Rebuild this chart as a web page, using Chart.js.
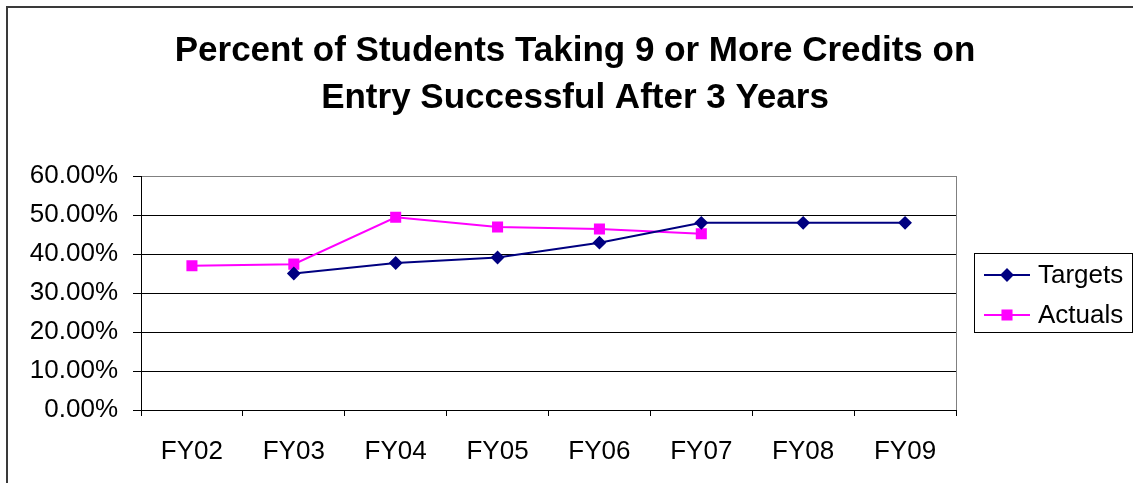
<!DOCTYPE html>
<html>
<head>
<meta charset="utf-8">
<script src="https://cdn.jsdelivr.net/npm/chart.js@4/dist/chart.umd.min.js"></script>
<style>
html,body{margin:0;padding:0;background:#fff;}
#wrap{width:1133px;height:483px;position:relative;}
</style>
</head>
<body>
<div id="wrap"><canvas id="c" width="1133" height="483"></canvas></div>
<script>
const titleLines = ['Percent of Students Taking 9 or More Credits on', 'Entry Successful After 3 Years'];
const categories = ['FY02', 'FY03', 'FY04', 'FY05', 'FY06', 'FY07', 'FY08', 'FY09'];
const targets = [null, 0.35, 0.377, 0.391, 0.429, 0.48, 0.48, 0.48];
const actuals = [0.37, 0.374, 0.494, 0.469, 0.464, 0.452, null, null];
const yTicks = [0, 0.1, 0.2, 0.3, 0.4, 0.5, 0.6];
const seriesNames = ['Targets', 'Actuals'];

const FONT = '"Liberation Sans", Arial, sans-serif';

const framePlugin = {
  id: 'frame',
  beforeDraw(chart) {
    const ctx = chart.ctx;
    ctx.save();
    ctx.fillStyle = '#fff';
    ctx.fillRect(0, 0, chart.width, chart.height);
    ctx.strokeStyle = '#3a3a3a';
    ctx.lineWidth = 2;
    ctx.beginPath();
    ctx.moveTo(7, chart.height);
    ctx.lineTo(7, 7);
    ctx.lineTo(chart.width, 7);
    ctx.stroke();
    ctx.restore();
  },
  afterDraw(chart) {
    const ctx = chart.ctx;
    const a = chart.chartArea;
    ctx.save();
    // right border of plot area
    ctx.strokeStyle = '#808080';
    ctx.lineWidth = 1;
    ctx.beginPath();
    ctx.moveTo(Math.round(a.right) + 0.5, a.top);
    ctx.lineTo(Math.round(a.right) + 0.5, a.bottom);
    ctx.stroke();
    // title
    ctx.fillStyle = '#000';
    ctx.font = 'bold 35px ' + FONT;
    ctx.textAlign = 'center';
    ctx.textBaseline = 'middle';
    ctx.fillText(titleLines[0], 575, 51);
    ctx.fillText(titleLines[1], 575, 98);
    // legend
    ctx.strokeStyle = '#000';
    ctx.lineWidth = 1;
    ctx.strokeRect(974.5, 253.5, 158, 79);
    const rows = [275, 315];
    chart.data.datasets.forEach((ds, i) => {
      const y = rows[i];
      ctx.strokeStyle = ds.borderColor;
      ctx.lineWidth = ds.borderWidth;
      ctx.beginPath();
      ctx.moveTo(984, y);
      ctx.lineTo(1030, y);
      ctx.stroke();
      Chart.helpers.drawPoint(ctx, {pointStyle: ds.pointStyle, radius: ds.pointRadius, rotation: 0, borderWidth: 1}, 1007, y);
      ctx.fillStyle = ds.pointBackgroundColor;
      ctx.strokeStyle = ds.pointBorderColor;
      ctx.lineWidth = 1;
      ctx.beginPath();
      Chart.helpers.drawPoint(ctx, {pointStyle: ds.pointStyle, radius: ds.pointRadius, rotation: 0, borderWidth: 1}, 1007, y);
      ctx.fillStyle = '#000';
      ctx.font = '26px ' + FONT;
      ctx.textAlign = 'left';
      ctx.textBaseline = 'middle';
      ctx.fillText(ds.label, 1038, y + 1);
    });
    ctx.restore();
  }
};

new Chart(document.getElementById('c'), {
  type: 'line',
  data: {
    labels: categories,
    datasets: [
      {
        label: seriesNames[0],
        data: targets,
        borderColor: '#000080',
        backgroundColor: '#000080',
        pointBackgroundColor: '#000080',
        pointBorderColor: '#000080',
        borderWidth: 2,
        pointStyle: 'rectRot',
        pointRadius: 5.5,
        pointHoverRadius: 5.5,
        tension: 0,
        spanGaps: false
      },
      {
        label: seriesNames[1],
        data: actuals,
        borderColor: '#FF00FF',
        backgroundColor: '#FF00FF',
        pointBackgroundColor: '#FF00FF',
        pointBorderColor: '#FF00FF',
        borderWidth: 2,
        pointStyle: 'rect',
        pointRadius: 6.4,
        pointHoverRadius: 6.4,
        tension: 0,
        spanGaps: false
      }
    ]
  },
  options: {
    responsive: false,
    animation: false,
    events: [],
    layout: { padding: { top: 176, right: 177, bottom: 0, left: 0 } },
    plugins: {
      legend: { display: false },
      title: { display: false },
      tooltip: { enabled: false }
    },
    scales: {
      x: {
        type: 'category',
        offset: true,
        afterFit(s) { s.height = 73; },
        grid: {
          offset: true,
          drawOnChartArea: false,
          drawTicks: true,
          tickLength: 6,
          color: '#000'
        },
        border: { display: true, color: '#000', width: 1 },
        ticks: {
          color: '#000',
          font: { family: FONT, size: 26 },
          padding: 20,
          maxRotation: 0,
          autoSkip: false
        }
      },
      y: {
        min: 0,
        max: 0.6,
        afterFit(s) { s.width = 141; },
        afterBuildTicks(s) { s.ticks = yTicks.map(v => ({ value: v })); },
        grid: {
          color: (c) => (c.tick && Math.abs(c.tick.value - 0.6) < 1e-9) ? '#808080' : '#000',
          lineWidth: 1,
          drawTicks: true,
          tickLength: 8,
          tickColor: '#000'
        },
        border: { display: true, color: '#000', width: 1 },
        ticks: {
          color: '#000',
          font: { family: FONT, size: 26 },
          padding: 15,
          callback: (v) => (v * 100).toFixed(2) + '%'
        }
      }
    }
  },
  plugins: [framePlugin]
});
</script>
</body>
</html>
